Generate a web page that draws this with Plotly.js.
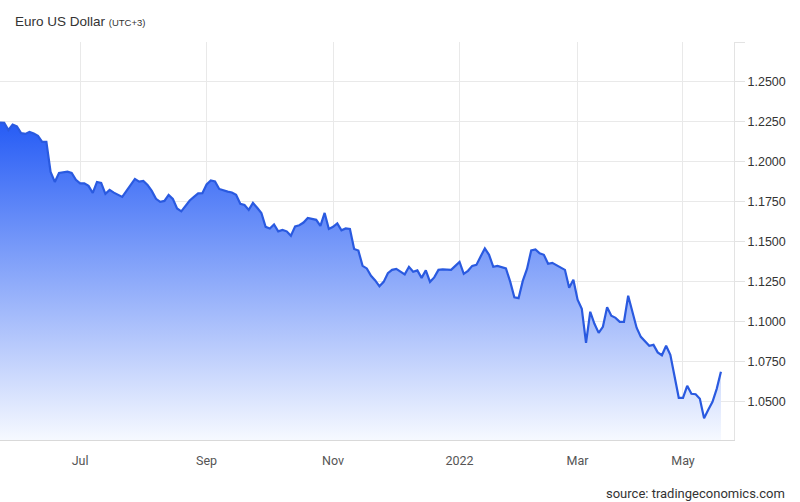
<!DOCTYPE html>
<html><head><meta charset="utf-8">
<script src="https://cdn.plot.ly/plotly-3.0.1.min.js"></script>
<style>html,body{margin:0;padding:0;background:#fff}#chart{width:800px;height:502px}</style>
</head><body><div id="chart"></div>
<script>
// Trading sessions shown on the chart (category axis: equally spaced sessions)
const sessionDates = [
  '2021-05-24','2021-05-26','2021-05-28','2021-05-30','2021-06-01','2021-06-03','2021-06-05','2021-06-07','2021-06-09','2021-06-11',
  '2021-06-13','2021-06-15','2021-06-17','2021-06-19','2021-06-21','2021-06-23','2021-06-25','2021-06-27','2021-06-29',
  '2021-07-01','2021-07-03','2021-07-05','2021-07-07','2021-07-09','2021-07-11','2021-07-13','2021-07-15','2021-07-17','2021-07-19',
  '2021-07-21','2021-07-23','2021-07-25','2021-07-27','2021-07-29','2021-07-31',
  '2021-08-02','2021-08-04','2021-08-06','2021-08-08','2021-08-10','2021-08-12','2021-08-14','2021-08-16','2021-08-18','2021-08-20',
  '2021-08-22','2021-08-24','2021-08-26','2021-08-29',
  '2021-09-01','2021-09-03','2021-09-05','2021-09-07','2021-09-09','2021-09-11','2021-09-13','2021-09-15','2021-09-17','2021-09-19',
  '2021-09-21','2021-09-23','2021-09-25','2021-09-27','2021-09-29',
  '2021-10-01','2021-10-03','2021-10-05','2021-10-07','2021-10-09','2021-10-11','2021-10-13','2021-10-15','2021-10-17','2021-10-19',
  '2021-10-21','2021-10-23','2021-10-25','2021-10-27','2021-10-29',
  '2021-11-01','2021-11-03','2021-11-05','2021-11-07','2021-11-09','2021-11-11','2021-11-13','2021-11-15','2021-11-17','2021-11-19',
  '2021-11-21','2021-11-23','2021-11-25','2021-11-27','2021-11-29',
  '2021-12-01','2021-12-03','2021-12-05','2021-12-07','2021-12-09','2021-12-11','2021-12-13','2021-12-15','2021-12-17','2021-12-19',
  '2021-12-21','2021-12-23','2021-12-25','2021-12-27','2021-12-30',
  '2022-01-03','2022-01-05','2022-01-07','2022-01-09','2022-01-11','2022-01-13','2022-01-15','2022-01-17','2022-01-19','2022-01-21',
  '2022-01-23','2022-01-25','2022-01-27','2022-01-29','2022-01-31',
  '2022-02-02','2022-02-04','2022-02-06','2022-02-08','2022-02-10','2022-02-12','2022-02-14','2022-02-16','2022-02-18','2022-02-20',
  '2022-02-22','2022-02-24','2022-02-26',
  '2022-03-01','2022-03-03','2022-03-06','2022-03-08','2022-03-10','2022-03-13','2022-03-15','2022-03-17','2022-03-20','2022-03-22',
  '2022-03-24','2022-03-27','2022-03-29','2022-03-31',
  '2022-04-03','2022-04-05','2022-04-08','2022-04-10','2022-04-12','2022-04-15','2022-04-17','2022-04-19','2022-04-22','2022-04-24',
  '2022-04-27',
  '2022-05-01','2022-05-03','2022-05-05','2022-05-08','2022-05-10','2022-05-12','2022-05-15','2022-05-17','2022-05-19','2022-05-22'
];

// EUR/USD rate
const eurUsd = [
  1.2246,1.2244,1.2200,1.2234,1.2222,1.2181,1.2175,1.2188,1.2178,1.2163,
  1.2125,1.2125,1.1938,1.1875,1.1931,1.1934,1.1939,1.1931,1.1888,
  1.1866,1.1866,1.1850,1.1806,1.1875,1.1869,1.1800,1.1825,1.1808,1.1794,
  1.1781,1.1819,1.1856,1.1894,1.1877,1.1881,
  1.1856,1.1819,1.1769,1.1750,1.1756,1.1794,1.1769,1.1709,1.1691,1.1725,
  1.1759,1.1781,1.1803,1.1804,
  1.1859,1.1884,1.1878,1.1831,1.1820,1.1814,1.1809,1.1794,1.1738,1.1731,
  1.1700,1.1744,1.1713,1.1681,1.1594,
  1.1584,1.1609,1.1566,1.1575,1.1566,1.1538,1.1597,1.1604,1.1621,1.1650,
  1.1644,1.1638,1.1600,1.1681,1.1581,
  1.1594,1.1616,1.1572,1.1584,1.1581,1.1456,1.1446,1.1350,1.1334,1.1288,
  1.1259,1.1222,1.1250,1.1304,1.1325,
  1.1331,1.1313,1.1297,1.1344,1.1313,1.1322,1.1275,1.1322,1.1250,1.1278,
  1.1325,1.1328,1.1326,1.1325,1.1350,
  1.1375,1.1300,1.1319,1.1350,1.1356,1.1409,1.1459,1.1419,1.1344,1.1350,
  1.1344,1.1334,1.1253,1.1153,1.1148,
  1.1256,1.1331,1.1447,1.1453,1.1428,1.1419,1.1363,1.1369,1.1356,1.1338,
  1.1325,1.1213,1.1263,
  1.1138,1.1081,1.0869,1.1063,1.0988,1.0931,1.0969,1.1091,1.1038,1.1025,
  1.1000,1.1000,1.1163,1.1056,
  1.0963,1.0906,1.0881,1.0850,1.0856,1.0809,1.0791,1.0850,1.0794,1.0663,
  1.0525,
  1.0525,1.0600,1.0550,1.0547,1.0519,1.0397,1.0450,1.0500,1.0581,1.0688
];

const monthTickDates = ['2021-07-01','2021-09-01','2021-11-01','2022-01-03','2022-03-01','2022-05-01'];
const monthTickLabels = ['Jul','Sep','Nov','2022','Mar','May'];
const priceTicks = [1.05,1.075,1.1,1.125,1.15,1.175,1.2,1.225,1.25,1.275];
const priceTickLabels = ['1.0500','1.0750','1.1000','1.1250','1.1500','1.1750','1.2000','1.2250','1.2500',''];

const trace = {
  x: sessionDates,
  y: eurUsd,
  type: 'scatter',
  mode: 'lines',
  line: {color: '#2a5ae0', width: 2.2},
  fill: 'tozeroy',
  fillgradient: {
    type: 'vertical',
    start: 1.0261,
    stop: 1.2246,
    colorscale: [[0, 'rgb(246,249,255)'], [1, 'rgb(38,92,245)']]
  },
  hoverinfo: 'skip'
};

const layout = {
  width: 800, height: 502,
  margin: {l: 0, r: 66, t: 42, b: 62},
  paper_bgcolor: '#ffffff', plot_bgcolor: '#ffffff',
  showlegend: false,
  font: {family: 'Liberation Sans, Arial, sans-serif', color: '#333'},
  title: {
    text: 'Euro US Dollar <span style="font-size:9.5px">(UTC+3)</span>',
    font: {size: 13.5, color: '#333', family: 'Liberation Sans, Arial, sans-serif'},
    xref: 'container', yref: 'container',
    x: 15/800, xanchor: 'left', y: 1 - 21/502, yanchor: 'middle'
  },
  xaxis: {
    type: 'category',
    range: [0, 174.1],
    tickmode: 'array',
    tickvals: monthTickDates,
    ticktext: monthTickLabels,
    showgrid: true, gridcolor: '#e9e9e9', gridwidth: 1,
    showline: true, linecolor: '#d9d9d9', linewidth: 1,
    ticks: '', ticklabelstandoff: 9,
    tickfont: {family: 'Liberation Sans Narrow, Arial Narrow, Roboto, sans-serif', size: 12.5, color: '#555'},
    zeroline: false, fixedrange: true
  },
  yaxis: {
    side: 'right',
    range: [1.0261, 1.275],
    tickmode: 'array',
    tickvals: priceTicks,
    ticktext: priceTickLabels,
    showgrid: true, gridcolor: '#e9e9e9', gridwidth: 1,
    showline: true, linecolor: '#e3e3e3', linewidth: 1,
    ticks: 'outside', ticklen: 10, tickcolor: '#e3e3e3', tickwidth: 1,
    tickfont: {family: 'Liberation Sans, Arial, sans-serif', size: 12.5, color: '#333'},
    zeroline: false, fixedrange: true
  },
  annotations: [{
    text: 'source: tradingeconomics.com',
    xref: 'paper', yref: 'paper',
    x: 787/734, xanchor: 'right',
    y: -53/398, yanchor: 'middle',
    showarrow: false,
    font: {family: 'Liberation Sans Narrow, Arial Narrow, Roboto, sans-serif', size: 13, color: '#333'}
  }]
};

Plotly.newPlot('chart', [trace], layout, {displayModeBar: false, staticPlot: true});
</script>
</body></html>
